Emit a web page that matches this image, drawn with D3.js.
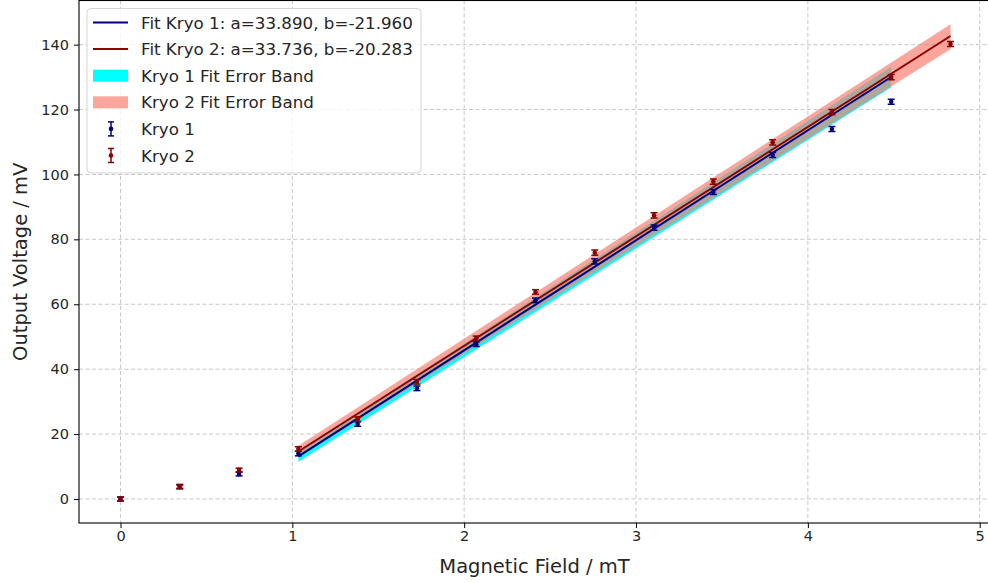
<!DOCTYPE html>
<html>
<head>
<meta charset="utf-8">
<script src="https://cdn.jsdelivr.net/npm/d3@7"></script>
<style>
  html, body { margin: 0; padding: 0; background: #fff; overflow: hidden; }
  svg { display: block; font-family: "DejaVu Sans", sans-serif; }
</style>
</head>
<body>
<svg id="chart" width="988" height="583"></svg>
<script>
// ---------------- data ----------------
const fieldKryo1 = [0, 0.345, 0.69, 1.035, 1.38, 1.725, 2.07, 2.415, 2.76, 3.105, 3.45, 3.795, 4.14, 4.485];
const voltKryo1  = [0, 3.7, 7.7, 14.0, 23.1, 34.1, 47.7, 61.2, 73.2, 83.6, 94.6, 106.0, 114.0, 122.4];
const errKryo1   = [0.6, 0.6, 0.6, 0.7, 0.7, 0.7, 0.7, 0.7, 0.8, 0.8, 0.8, 0.8, 0.8, 0.8];

const fieldKryo2 = [0, 0.345, 0.69, 1.035, 1.38, 1.725, 2.07, 2.415, 2.76, 3.105, 3.45, 3.795, 4.14, 4.485, 4.83];
const voltKryo2  = [0, 3.9, 8.9, 15.4, 24.6, 36.1, 49.5, 63.8, 75.9, 87.4, 97.8, 109.9, 119.2, 130.0, 140.2];
const errKryo2   = [0.6, 0.6, 0.6, 0.7, 0.7, 0.7, 0.7, 0.7, 0.8, 0.8, 0.8, 0.8, 0.8, 0.8, 0.8];

// linear fits U = a*B + b (parameters from the legend), drawn over the fit range
const fitKryo1 = { a: 33.890, b: -21.960 };
const fitKryo2 = { a: 33.736, b: -20.283 };
const fitRangeKryo1 = [1.035, 4.485];
const fitRangeKryo2 = [1.035, 4.83];

// error band edges at the fit range ends
const bandKryo1Upper = [14.7, 133.2];
const bandKryo1Lower = [11.5, 126.9];
const bandKryo2Upper = [16.4, 146.3];
const bandKryo2Lower = [12.8, 138.6];

const xTicks = [0, 1, 2, 3, 4, 5];
const yTicks = [0, 20, 40, 60, 80, 100, 120, 140];

const legendLabels = [
  "Fit Kryo 1: a=33.890, b=-21.960",
  "Fit Kryo 2: a=33.736, b=-20.283",
  "Kryo 1 Fit Error Band",
  "Kryo 2 Fit Error Band",
  "Kryo 1",
  "Kryo 2"
];

// ---------------- layout ----------------
const C1 = "#000080", C2 = "#8b0000";
const BAND1 = "#00ffff", BAND2 = "#fa8072";
const L = 79, R = 992, T = 0.5, B = 523;

const svg = d3.select("#chart");
const x = d3.scaleLinear().domain([-0.2415, 5.0715]).range([L, R]);
const y = d3.scaleLinear().domain([-7.4, 153.6]).range([B, T]);

const defs = svg.append("defs");
defs.append("clipPath").attr("id", "clip")
  .append("rect").attr("x", L).attr("y", T).attr("width", R - L).attr("height", B - T);

// grid
const grid = svg.append("g");
grid.selectAll(".gx").data(xTicks).enter().append("line")
  .attr("x1", d => x(d)).attr("x2", d => x(d)).attr("y1", T).attr("y2", B)
  .attr("stroke", "#b0b0b0").attr("stroke-opacity", 0.7).attr("stroke-width", 1)
  .attr("stroke-dasharray", "4,2.5");
grid.selectAll(".gy").data(yTicks).enter().append("line")
  .attr("x1", L).attr("x2", R).attr("y1", d => y(d)).attr("y2", d => y(d))
  .attr("stroke", "#b0b0b0").attr("stroke-opacity", 0.7).attr("stroke-width", 1)
  .attr("stroke-dasharray", "4,2.5");

const plot = svg.append("g").attr("clip-path", "url(#clip)");

// bands
function band(range, upper, lower, color, op) {
  const pts = [[range[0], upper[0]], [range[1], upper[1]], [range[1], lower[1]], [range[0], lower[0]]];
  plot.append("path")
    .attr("d", d3.line().x(d => x(d[0])).y(d => y(d[1]))(pts) + "Z")
    .attr("fill", color).attr("fill-opacity", op).attr("stroke", "none");
}
band(fitRangeKryo1, bandKryo1Upper, bandKryo1Lower, BAND1, 1);
band(fitRangeKryo2, bandKryo2Upper, bandKryo2Lower, BAND2, 0.7);

// fit lines
function fitLine(fit, range, color) {
  const pts = range.map(v => [v, fit.a * v + fit.b]);
  plot.append("path")
    .attr("d", d3.line().x(d => x(d[0])).y(d => y(d[1]))(pts))
    .attr("fill", "none").attr("stroke", color).attr("stroke-width", 2);
}
fitLine(fitKryo1, fitRangeKryo1, C1);
fitLine(fitKryo2, fitRangeKryo2, C2);

// error bars
function errorbars(xs, ys, es, color) {
  const g = plot.append("g");
  xs.forEach((xv, i) => {
    const cx = x(xv), y1 = y(ys[i] - es[i]), y2 = y(ys[i] + es[i]);
    g.append("line").attr("x1", cx).attr("x2", cx).attr("y1", y1).attr("y2", y2)
      .attr("stroke", color).attr("stroke-width", 1.5);
    [y1, y2].forEach(yy => g.append("line").attr("x1", cx - 3.5).attr("x2", cx + 3.5)
      .attr("y1", yy).attr("y2", yy).attr("stroke", color).attr("stroke-width", 1.5));
    g.append("circle").attr("cx", cx).attr("cy", y(ys[i])).attr("r", 2.3).attr("fill", color);
  });
}
errorbars(fieldKryo1, voltKryo1, errKryo1, C1);
errorbars(fieldKryo2, voltKryo2, errKryo2, C2);

// axes
const xAxis = svg.append("g").attr("transform", `translate(0,${B})`)
  .call(d3.axisBottom(x).tickValues(xTicks).tickSize(5).tickPadding(3).tickFormat(d3.format("d")));
const yAxis = svg.append("g").attr("transform", `translate(${L},0)`)
  .call(d3.axisLeft(y).tickValues(yTicks).tickSize(5).tickPadding(5).tickFormat(d3.format("d")));
[xAxis, yAxis].forEach(a => {
  a.select(".domain").remove();
  a.selectAll("line").attr("stroke", "#000").attr("stroke-width", 1);
  a.selectAll("text").attr("font-size", "14.5px").attr("fill", "#262626")
    .attr("font-family", "DejaVu Sans, sans-serif");
});
// frame
svg.append("rect").attr("x", L).attr("y", T).attr("width", R - L).attr("height", B - T)
  .attr("fill", "none").attr("stroke", "#000").attr("stroke-width", 1.1);

// axis titles
svg.append("text").attr("x", (L + R) / 2 - 1).attr("y", 573).attr("text-anchor", "middle")
  .attr("font-size", "19.5px").attr("fill", "#262626").text("Magnetic Field / mT");
svg.append("text").attr("transform", `translate(27,${(T + B) / 2}) rotate(-90)`)
  .attr("text-anchor", "middle").attr("font-size", "19.5px").attr("fill", "#262626")
  .text("Output Voltage / mV");

// legend
const lg = svg.append("g");
lg.append("rect").attr("x", 87).attr("y", 8.5).attr("width", 334).attr("height", 164.5)
  .attr("rx", 4).attr("fill", "#fff").attr("fill-opacity", 0.8)
  .attr("stroke", "#d5d5d5").attr("stroke-width", 1);
const rowY = i => 22.5 + i * 26.6;
legendLabels.forEach((lab, i) => {
  const cy = rowY(i);
  if (i < 2) {
    lg.append("line").attr("x1", 93).attr("x2", 128).attr("y1", cy).attr("y2", cy)
      .attr("stroke", i === 0 ? C1 : C2).attr("stroke-width", 2);
  } else if (i < 4) {
    lg.append("rect").attr("x", 93).attr("y", cy - 6).attr("width", 35).attr("height", 12)
      .attr("fill", i === 2 ? BAND1 : BAND2).attr("fill-opacity", i === 2 ? 1 : 0.7);
  } else {
    const col = i === 4 ? C1 : C2;
    lg.append("line").attr("x1", 111).attr("x2", 111).attr("y1", cy - 7).attr("y2", cy + 7)
      .attr("stroke", col).attr("stroke-width", 1.5);
    [cy - 7, cy + 7].forEach(yy => lg.append("line").attr("x1", 108).attr("x2", 114)
      .attr("y1", yy).attr("y2", yy).attr("stroke", col).attr("stroke-width", 1.5));
    lg.append("circle").attr("cx", 111).attr("cy", cy).attr("r", 2.3).attr("fill", col);
  }
  lg.append("text").attr("x", 141).attr("y", cy).attr("dy", "0.36em")
    .attr("font-size", "16.7px").attr("fill", "#262626").text(lab);
});
</script>
</body>
</html>
